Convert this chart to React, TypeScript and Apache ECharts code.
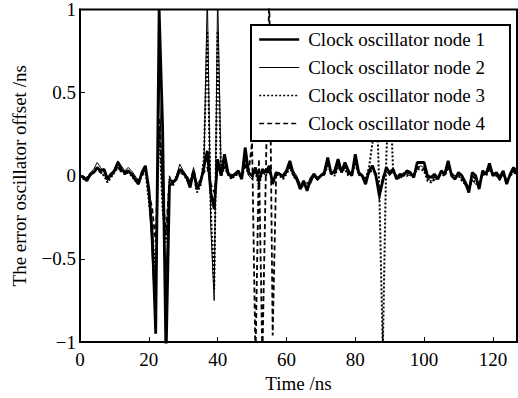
import React, { useEffect, useRef } from "react";
import * as echarts from "echarts";

const xValues: number[] = Array.from({ length: 128 }, (_, i) => i);

const node1: number[] = [
  0, -0.01, -0.03, 0.01, 0.02, 0.05, 0.03, 0.04, -0.02, 0.01,
  0.03, 0.08, 0.04, 0.02, 0.03, 0.01, -0.02, -0.05, 0.02, 0.06,
  -0.08, -0.35, -0.95, 1.0, 0.3, -1.1, -0.06, -0.04, -0.02, 0.04,
  0.02, -0.01, -0.07, 0.03, -0.08, -0.04, 0.05, 0.15, -0.1, -0.2,
  0.1, 0.0, 0.13, 0.02, -0.01, 0.01, 0.03, -0.02, 0.17, 0.02,
  0.0, 0.05, -0.03, 0.04, 0.02, 0.06, -0.05, 0.02, 0.01, 0.0,
  0.03, 0.09, 0.01, -0.02, -0.08, -0.03, -0.09, -0.02, 0.01, -0.02,
  0.0, 0.02, 0.11, 0.01, 0.03, 0.1, 0.02, 0.08, 0.03, 0.0,
  0.13, 0.02, 0.0, -0.05, 0.03, 0.06, 0.0, -0.12, -0.03, 0.05,
  0.02, 0.04, -0.02, 0.01, 0.0, 0.03, 0.02, -0.01, 0.08, 0.08,
  0.08, 0.0, -0.01, 0.01, -0.02, 0.03, 0.01, 0.09, 0.0, -0.02,
  0.02, 0.0, -0.04, -0.1, 0.02, 0.0, -0.08, 0.03, 0.01, 0.075,
  0.0, 0.02, -0.01, 0.03, -0.05, 0.01, 0.05, 0.02,
];

const node2: number[] = [
  0, 0.0, -0.02, 0.02, 0.04, 0.08, 0.05, 0.02, -0.03, 0.0,
  0.04, 0.09, 0.06, 0.03, 0.05, 0.03, 0.0, -0.03, 0.0, 0.04,
  -0.1, -0.5, -0.9, 0.6, -0.15, -0.6, 0.0, -0.05, 0.0, 0.07,
  0.03, 0.0, -0.04, 0.05, -0.05, -0.02, 0.03, 1.1, -0.3, -0.75,
  1.1, 0.02, 0.08, 0.0, 0.01, 0.0, 0.02, 0.0, 0.1, 0.0,
  -0.02, 0.03, -0.05, 0.02, 0.0, 0.04, -0.03, 0.0, 0.02, -0.01,
  0.02, 0.07, 0.03, 0.0, -0.05, -0.06, -0.04, -0.05, 0.0, -0.03,
  0.01, 0.0, 0.08, 0.03, 0.02, 0.07, 0.04, 0.06, 0.01, 0.02,
  0.1, 0.0, 0.01, -0.03, 0.02, 0.04, 0.02, -0.15, 0.0, 0.03,
  0.0, 0.03, 0.0, -0.01, 0.02, 0.01, 0.0, 0.01, 0.05, 0.06,
  0.05, -0.02, -0.03, -0.03, 0.0, 0.02, 0.0, 0.07, 0.02, 0.0,
  0.0, -0.02, -0.06, -0.08, -0.03, -0.05, -0.05, 0.0, 0.02, 0.05,
  0.02, 0.0, -0.03, 0.01, -0.03, 0.0, 0.03, 0.0,
];

const node3: number[] = [
  0, -0.02, -0.01, 0.0, 0.03, 0.05, 0.02, 0.0, -0.04, -0.01,
  0.02, 0.05, 0.03, 0.01, 0.02, 0.0, -0.03, -0.04, 0.0, 0.03,
  -0.15, -0.35, -0.6, 0.3, -0.2, -0.4, -0.02, -0.06, 0.0, 0.03,
  0.01, -0.02, -0.06, 0.02, -0.1, -0.06, 0.1, 0.87, -0.2, -0.68,
  0.87, 0.0, 0.05, 0.01, -0.02, 0.0, 0.01, -0.01, 0.06, 0.01,
  0.0, 0.02, -0.06, 0.03, 0.0, 0.03, -0.04, 0.01, 0.0, -0.02,
  0.01, 0.05, 0.0, -0.03, -0.06, -0.07, -0.05, -0.03, 0.0, -0.02,
  0.0, 0.01, 0.06, 0.02, 0.0, 0.05, 0.03, 0.04, 0.0, 0.01,
  0.07, 0.01, 0.0, -0.02, 0.05, 0.2, 0.6, -0.1, -1.05, 0.1,
  0.6, 0.02, 0.0, -0.02, 0.01, 0.0, 0.01, 0.0, 0.04, 0.04,
  0.03, -0.03, -0.04, -0.02, -0.01, 0.01, 0.0, 0.05, 0.01, -0.01,
  0.0, -0.03, -0.05, -0.09, -0.02, -0.04, -0.06, 0.01, 0.0, 0.04,
  0.01, 0.0, -0.02, 0.02, -0.04, 0.0, 0.02, 0.01,
];

const node4: number[] = [
  0, -0.01, -0.02, 0.01, 0.02, 0.04, 0.02, 0.01, -0.02, 0.0,
  0.02, 0.06, 0.02, 0.01, 0.02, 0.01, -0.01, -0.03, 0.01, 0.04,
  -0.1, -0.2, -0.4, 0.35, -0.1, -0.35, -0.03, -0.03, -0.01, 0.02,
  0.01, 0.0, -0.04, 0.02, -0.05, -0.03, 0.02, 0.05, -0.05, -0.1,
  0.05, 0.01, 0.06, 0.01, 0.0, 0.01, 0.02, -0.01, 0.08, 0.02,
  0.2, -1.1, 0.1, -1.1, 0.0, 1.1, -0.96, 0.0, 0.01, -0.01,
  0.02, 0.06, 0.01, -0.02, -0.05, -0.04, -0.06, -0.03, 0.01, -0.01,
  0.0, 0.01, 0.07, 0.02, 0.01, 0.06, 0.03, 0.05, 0.01, 0.01,
  0.08, 0.01, 0.0, -0.03, 0.02, 0.03, 0.01, -0.08, -0.02, 0.03,
  0.01, 0.03, -0.01, 0.0, 0.01, 0.02, 0.01, 0.0, 0.05, 0.05,
  0.04, -0.01, -0.02, -0.01, -0.01, 0.02, 0.01, 0.06, 0.01, -0.01,
  0.01, -0.01, -0.04, -0.07, 0.0, -0.02, -0.05, 0.02, 0.01, 0.05,
  0.01, 0.01, -0.02, 0.02, -0.03, 0.0, 0.03, 0.01,
];

const seriesNames: string[] = [
  "Clock oscillator node 1",
  "Clock oscillator node 2",
  "Clock oscillator node 3",
  "Clock oscillator node 4",
];

const FONT = "Liberation Serif, Times New Roman, serif";

export default function App() {
  const ref = useRef<HTMLDivElement>(null);
  useEffect(() => {
    if (!ref.current) return;
    const chart = echarts.init(ref.current, undefined, { renderer: "svg" });
    const pair = (ys: number[]) => xValues.map((x, i) => [x, ys[i]]);
    const styles: any[] = [
      { width: 2.8, type: "solid" },
      { width: 1, type: "solid" },
      { width: 2, type: [2, 2] },
      { width: 1.8, type: [5, 3] },
    ];
    const datas = [node1, node2, node3, node4];
    chart.setOption({
      animation: false,
      backgroundColor: "#fff",
      grid: {
        left: 80,
        right: 1,
        top: 9,
        bottom: 52,
        show: true,
        borderColor: "#000",
        borderWidth: 2,
        backgroundColor: "transparent",
      },
      legend: {
        left: 251,
        top: 25,
        orient: "vertical",
        data: seriesNames.map((n, i) => ({
          name: n,
          itemStyle: { opacity: 0 },
          lineStyle: { color: "#000", width: i === 0 ? 2.4 : i === 1 ? 1 : 1.5, type: styles[i].type },
        })),
        itemWidth: 40,
        itemHeight: 16,
        itemGap: 9,
        padding: [5, 25, 8, 7],
        backgroundColor: "#fff",
        borderColor: "#000",
        borderWidth: 2,
        selectedMode: false,
        itemStyle: { opacity: 0 },
        textStyle: {
          fontFamily: FONT,
          fontSize: 19,
          color: "#000",
          padding: [0, 0, 0, 4],
        },
      },
      xAxis: {
        type: "value",
        min: 0,
        max: 127,
        interval: 20,
        name: "Time /ns",
        nameLocation: "middle",
        nameGap: 29,
        nameTextStyle: { fontFamily: FONT, fontSize: 19, color: "#000" },
        axisLine: { show: true, onZero: false, lineStyle: { color: "#000", width: 2 } },
        axisTick: { show: true, inside: true, length: 5, lineStyle: { color: "#000", width: 1 } },
        axisLabel: { fontFamily: FONT, fontSize: 19, color: "#000", margin: 8, showMaxLabel: false },
        splitLine: { show: false },
      },
      yAxis: {
        type: "value",
        min: -1,
        max: 1,
        interval: 0.5,
        name: "The error oscillator offset /ns",
        nameLocation: "middle",
        nameGap: 51,
        nameTextStyle: { fontFamily: FONT, fontSize: 19, color: "#000" },
        axisLine: { show: true, onZero: false, lineStyle: { color: "#000", width: 2 } },
        axisTick: { show: true, inside: true, length: 5, lineStyle: { color: "#000", width: 1 } },
        axisLabel: {
          fontFamily: FONT,
          fontSize: 19,
          color: "#000",
          margin: 4,
          formatter: (v: number) => (v < 0 ? "\u2212" + String(-v) : String(v)),
        },
        splitLine: { show: false },
      },
      series: datas.map((d, i) => ({
        name: seriesNames[i],
        type: "line",
        data: pair(d),
        symbol: "none",
        showSymbol: false,
        clip: true,
        color: "#000",
        lineStyle: { color: "#000", ...styles[i] },
        z: 2 + (3 - i),
      })),
    });
    return () => chart.dispose();
  }, []);
  return <div ref={ref} style={{ width: 518, height: 398, position: "absolute", left: 0, top: 0 }} />;
}
